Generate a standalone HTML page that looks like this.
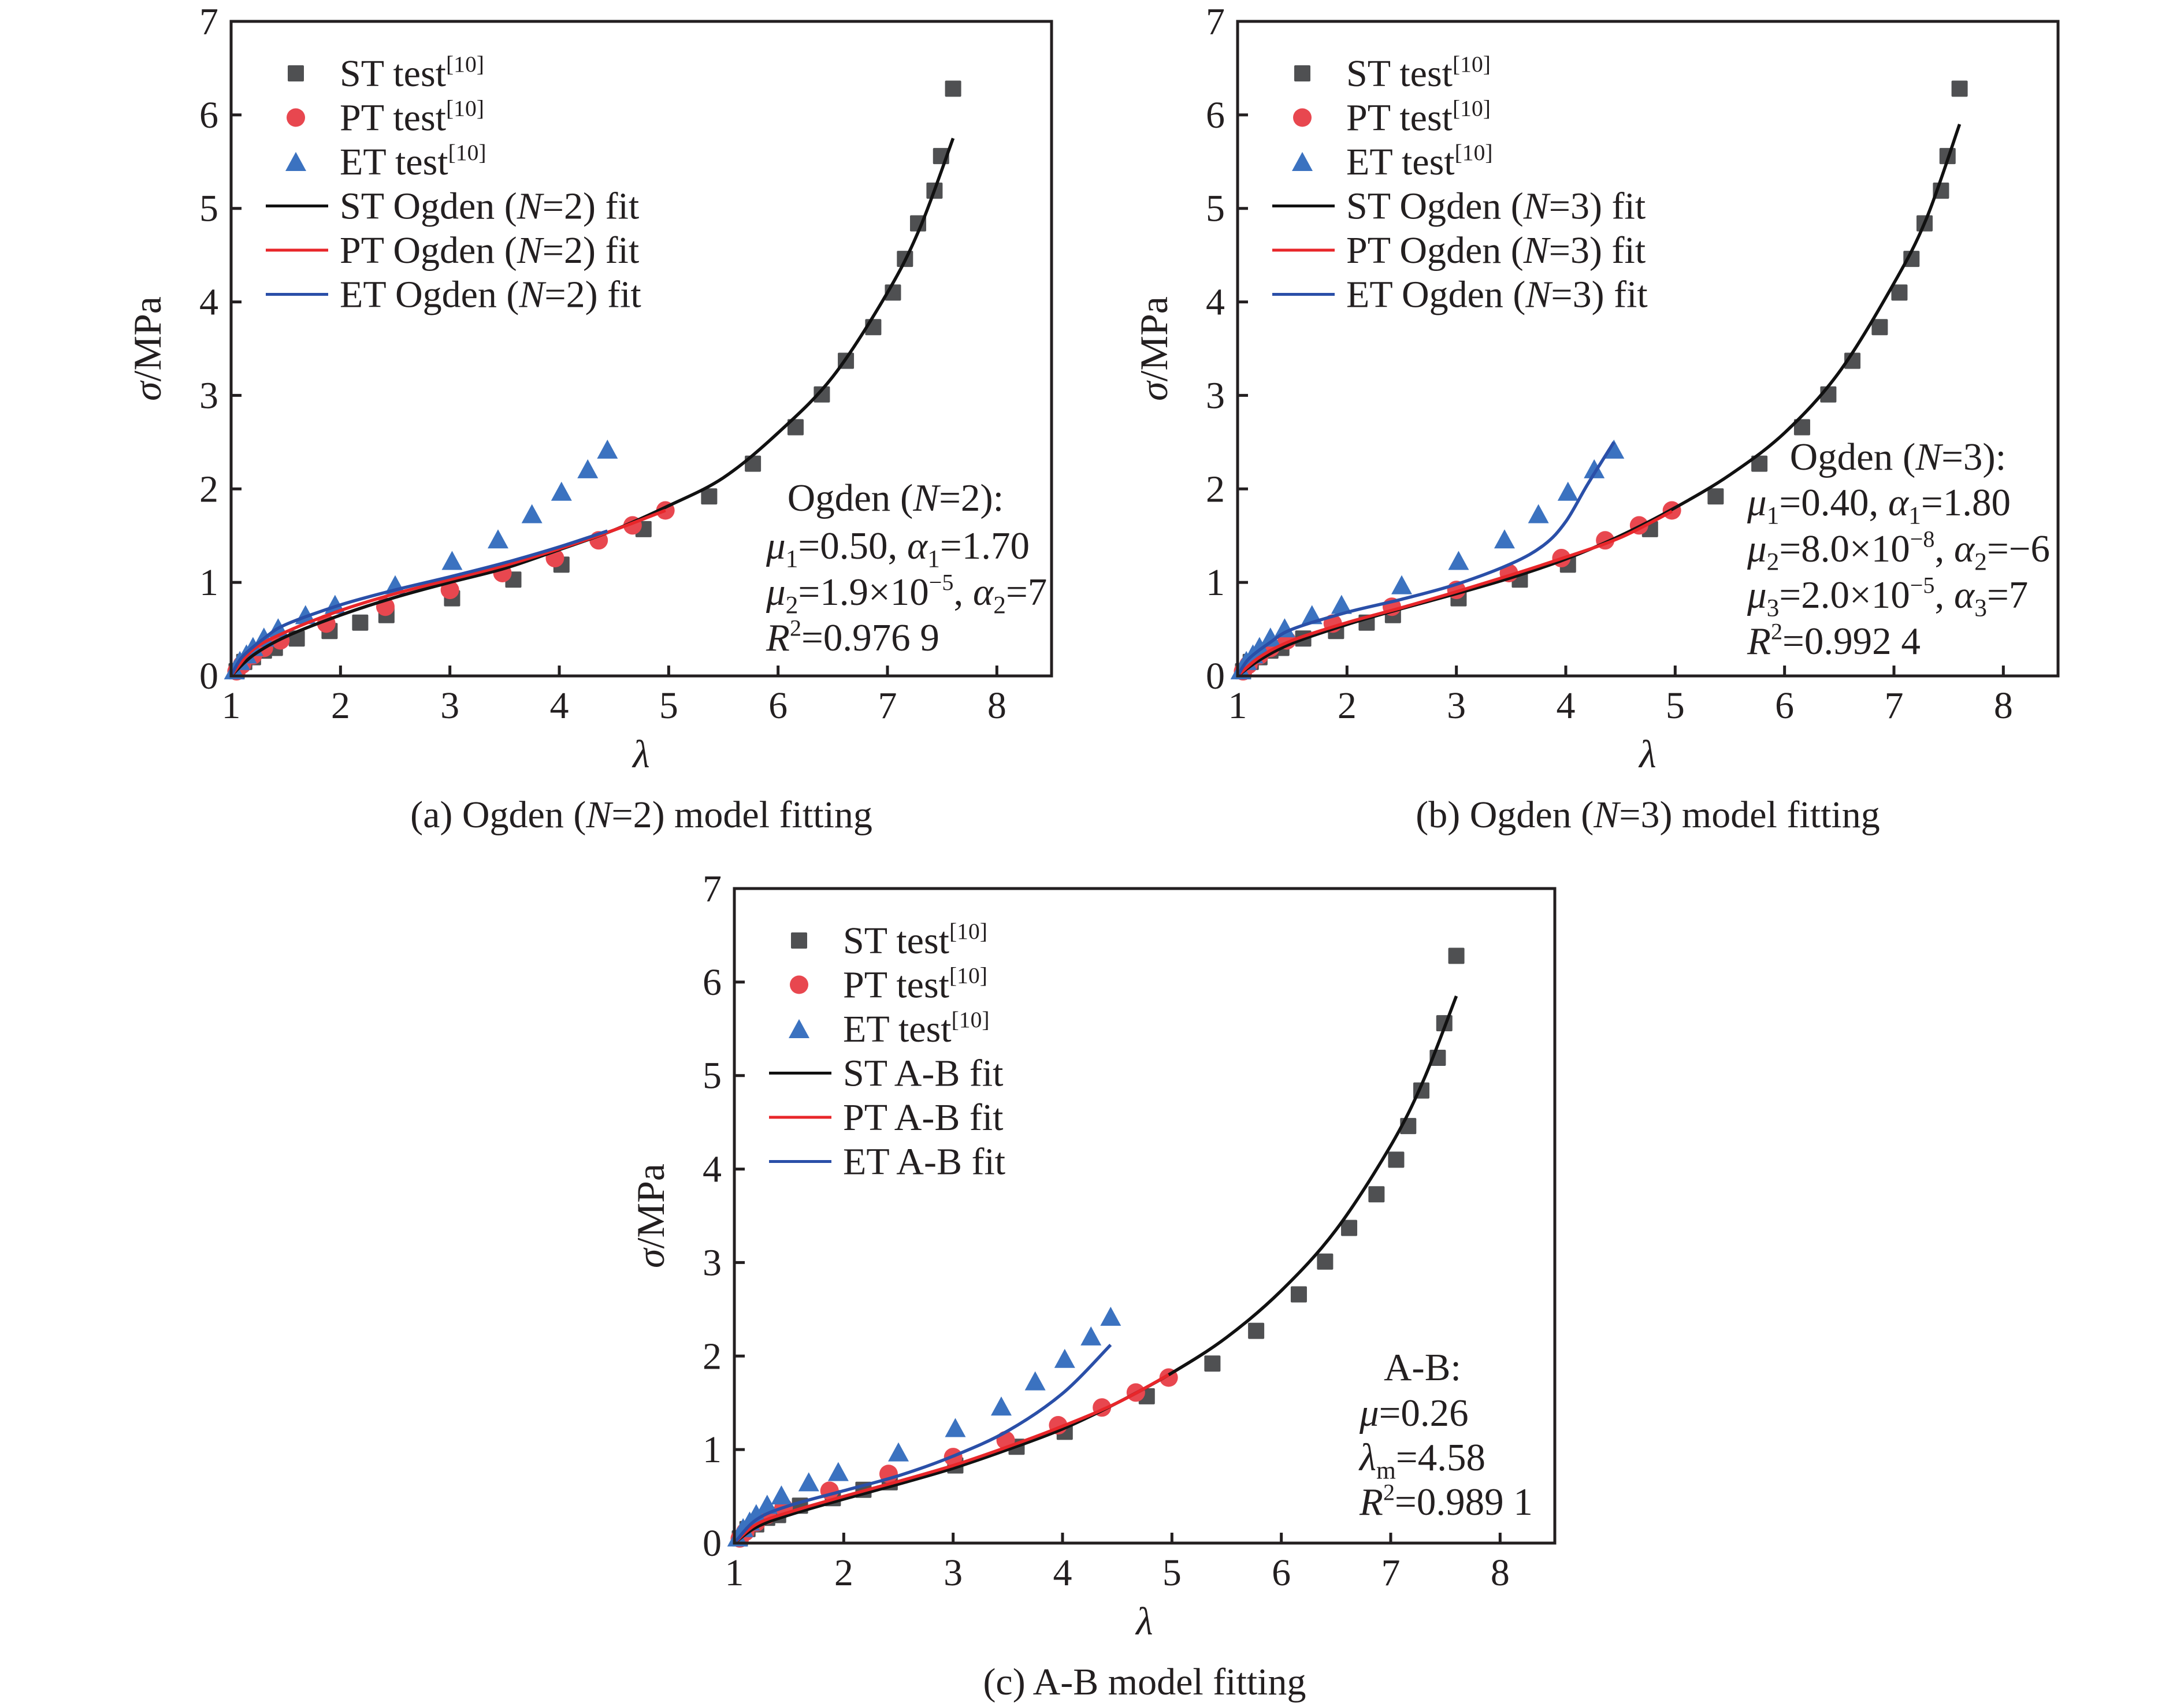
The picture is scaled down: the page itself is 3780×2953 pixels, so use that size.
<!DOCTYPE html>
<html><head><meta charset="utf-8"><style>
html,body{margin:0;padding:0;background:#fff}
svg{display:block;font-family:"Liberation Serif","DejaVu Serif",serif}
</style></head><body>
<svg id="fig" xmlns="http://www.w3.org/2000/svg" width="3780" height="2953" viewBox="0 0 3780 2953"></svg>
<script>
// ---- data ----
const stLambda=[1.05,1.12,1.2,1.3,1.4,1.6,1.9,2.18,2.42,3.02,3.58,4.02,4.77,5.37,5.77,6.16,6.4,6.62,6.87,7.05,7.16,7.28,7.43,7.49,7.6];
const stSigma=[0.05,0.15,0.2,0.27,0.3,0.4,0.48,0.57,0.65,0.83,1.03,1.19,1.57,1.92,2.27,2.66,3.01,3.37,3.73,4.1,4.46,4.84,5.19,5.56,6.28];
const ptLambda=[1.05,1.1,1.2,1.3,1.45,1.87,2.41,3.0,3.48,3.96,4.36,4.67,4.97];
const ptSigma=[0.05,0.12,0.22,0.3,0.38,0.56,0.74,0.92,1.1,1.26,1.45,1.61,1.77];
const etLambda=[1.03,1.08,1.14,1.2,1.3,1.43,1.68,1.95,2.5,3.02,3.44,3.75,4.02,4.26,4.44];
const etSigma=[0.05,0.15,0.22,0.3,0.4,0.5,0.64,0.75,0.96,1.22,1.45,1.72,1.96,2.2,2.41];
// fits (a)
const fitALambdaST=[1,1.2,1.5,2,2.5,3,3.5,4,4.5,5,5.5,6,6.5,7,7.3,7.6];
const fitASigmaST=[0,0.22,0.42,0.65,0.84,1.0,1.15,1.35,1.56,1.82,2.12,2.6,3.2,4.1,4.8,5.75];
const fitALambdaPT=[1,1.2,1.5,2,2.5,3,3.5,4,4.5,4.97];
const fitASigmaPT=[0,0.28,0.47,0.7,0.88,1.03,1.18,1.36,1.56,1.77];
const fitALambdaET=[1,1.1,1.3,1.5,2,2.5,3,3.5,4,4.44];
const fitASigmaET=[0,0.2,0.4,0.55,0.76,0.92,1.06,1.21,1.38,1.55];
// fits (b)
const fitBLambdaST=[1,1.2,1.5,2,2.5,3,3.5,4,4.5,5,5.5,6,6.5,7,7.3,7.6];
const fitBSigmaST=[0,0.17,0.35,0.55,0.72,0.88,1.05,1.25,1.5,1.8,2.15,2.6,3.25,4.2,4.9,5.9];
const fitBLambdaPT=[1,1.2,1.5,2,2.5,3,3.5,4,4.5,4.97];
const fitBSigmaPT=[0,0.2,0.38,0.57,0.73,0.9,1.08,1.27,1.48,1.76];
const fitBLambdaET=[1,1.1,1.3,1.5,2,2.5,3,3.5,3.8,4,4.2,4.44];
const fitBSigmaET=[0,0.18,0.36,0.5,0.68,0.82,0.98,1.2,1.4,1.65,2.05,2.5];
// fits (c)
const fitCLambdaST=[1,1.2,1.5,2,2.5,3,3.5,4,4.5,5,5.5,6,6.5,7,7.3,7.6];
const fitCSigmaST=[0,0.17,0.3,0.47,0.63,0.8,1.0,1.22,1.5,1.82,2.2,2.7,3.35,4.25,4.95,5.85];
const fitCLambdaPT=[1,1.2,1.5,2,2.5,3,3.5,4,4.5,4.97];
const fitCSigmaPT=[0,0.2,0.33,0.5,0.66,0.83,1.03,1.25,1.5,1.8];
const fitCLambdaET=[1,1.2,1.5,2,2.5,3,3.5,4,4.44];
const fitCSigmaET=[0,0.25,0.4,0.56,0.72,0.93,1.2,1.6,2.12];
const xTicks=[1,2,3,4,5,6,7,8];
const yTicks=[0,1,2,3,4,5,6,7];

const NS='http://www.w3.org/2000/svg';
const svg=document.getElementById('fig');
function mk(tag,attrs,parent){const e=document.createElementNS(NS,tag);for(const k in attrs)e.setAttribute(k,attrs[k]);parent.appendChild(e);return e;}
function richText(parent,x,y,size,parts,anchor){
  const t=mk('text',{x:x,y:y,'font-size':size,fill:'#231f20','text-anchor':anchor||'start'},parent);
  parts.forEach(p=>{
    const s=mk('tspan',{},t);
    s.textContent=p[0];
    if(p[1]&&p[1].indexOf('i')>=0)s.setAttribute('font-style','italic');
    if(p[1]&&p[1].indexOf('sub')>=0){s.setAttribute('font-size',size*0.65);s.setAttribute('dy',size*0.22);}
    if(p[1]&&p[1].indexOf('sup')>=0){s.setAttribute('font-size',size*0.6);s.setAttribute('dy',-size*0.38);}
    if(p[1]&&p[1].indexOf('back')>=0){s.setAttribute('dy',p[2]);}
  });
  return t;
}
function smoothPath(pts){
  let d='M'+pts[0][0].toFixed(1)+' '+pts[0][1].toFixed(1);
  for(let i=0;i<pts.length-1;i++){
    const p0=pts[i-1]||pts[i],p1=pts[i],p2=pts[i+1],p3=pts[i+2]||p2;
    const c1=[p1[0]+(p2[0]-p0[0])/6,p1[1]+(p2[1]-p0[1])/6];
    const c2=[p2[0]-(p3[0]-p1[0])/6,p2[1]-(p3[1]-p1[1])/6];
    d+=` C${c1[0].toFixed(1)} ${c1[1].toFixed(1)} ${c2[0].toFixed(1)} ${c2[1].toFixed(1)} ${p2[0].toFixed(1)} ${p2[1].toFixed(1)}`;
  }
  return d;
}
const W=1420,H=1133,XMIN=1,XMAX=8.5,YMIN=0,YMAX=7;
function drawPlot(id,ox,oy,fits,legendWord,annot,caption){
  const g=mk('g',{},svg);
  
  
  const sx=v=>ox+(v-XMIN)/(XMAX-XMIN)*W;
  const sy=v=>oy+H-(v-YMIN)/(YMAX-YMIN)*H;
  const colors=['#111','#e8262a','#2a4fa8'];
  const names=['st','pt','et'];
  function sq(x,y,gg){return mk('rect',{x:x-14,y:y-14,width:28,height:28,rx:2,fill:'#4f5052'},gg);}
  function ci(x,y,gg){return mk('circle',{cx:x,cy:y,r:16,fill:'#e8474f'},gg);}
  function tr(x,y,gg){return mk('path',{d:`M${x} ${y-19} L${x+18} ${y+14} L${x-18} ${y+14}Z`,fill:'#3b72c0'},gg);}
  stLambda.forEach((l,j)=>{const m=sq(sx(l),sy(stSigma[j]),g);});
  ptLambda.forEach((l,j)=>{const m=ci(sx(l),sy(ptSigma[j]),g);});
  etLambda.forEach((l,j)=>{const m=tr(sx(l),sy(etSigma[j]),g);});
  fits.forEach((f,i)=>{
    const d=smoothPath(f[0].map((l,j)=>[sx(l),sy(f[1][j])]));
    const p=mk('path',{d:d,fill:'none',stroke:colors[i],'stroke-width':5.5,'stroke-linejoin':'round'},g);
    
    
  });
  const fr=mk('rect',{x:ox,y:oy,width:W,height:H,fill:'none',stroke:'#231f20','stroke-width':5},g);
  
  
  xTicks.forEach(v=>{
    mk('line',{x1:sx(v),x2:sx(v),y1:oy+H,y2:oy+H-18,stroke:'#231f20','stroke-width':5},g);
    const t=mk('text',{x:sx(v),y:oy+H+73,'font-size':66,'text-anchor':'middle',fill:'#231f20'},g);
    t.textContent=v;
    
    
  });
  yTicks.forEach(v=>{
    mk('line',{x1:ox,x2:ox+18,y1:sy(v),y2:sy(v),stroke:'#231f20','stroke-width':5},g);
    const t=mk('text',{x:ox-22,y:sy(v)+22,'font-size':66,'text-anchor':'end',fill:'#231f20'},g);
    t.textContent=v;
    
    
  });
  const yt=mk('g',{transform:`translate(${ox-122},${oy+H/2}) rotate(-90)`},g);
  
  
  richText(yt,0,0,68,[['σ','i'],['/MPa','']],'middle');
  const xt=richText(g,ox+W/2,oy+H+158,68,[['λ','i']],'middle');
  
  
  const lg=mk('g',{},g);
  
  
  const rows=[['ST test','sq'],['PT test','ci'],['ET test','tr'],['ST '+legendWord,0],['PT '+legendWord,1],['ET '+legendWord,2]];
  rows.forEach((r,i)=>{
    const cy=oy+90+i*76.5, mx=ox+112;
    if(r[1]==='sq')sq(mx,cy,lg); else if(r[1]==='ci')ci(mx,cy,lg); else if(r[1]==='tr')tr(mx,cy+2,lg);
    else mk('line',{x1:ox+60,x2:ox+168,y1:cy,y2:cy,stroke:colors[r[1]],'stroke-width':5},lg);
    let parts;
    if(i<3)parts=[[r[0],''],['[10]','sup']];
    else if(r[0].indexOf('N=')>=0){
      const m=r[0].split('N=');parts=[[m[0],''],['N','i'],['='+m[1],'']];
    } else parts=[[r[0],'']];
    const t=richText(lg,ox+188,cy+22,66,parts);
    
    
  });
  const an=mk('g',{},g);
  
  
  annot.forEach(a=>richText(an,a.x,a.y,67,a.parts,a.anchor));
  const cp=richText(g,ox+W/2,oy+H+262,66,caption,'middle');
  
  
}
const F=67;
drawPlot('a',400,37,[[fitALambdaST,fitASigmaST],[fitALambdaPT,fitASigmaPT],[fitALambdaET,fitASigmaET]],'Ogden (N=2) fit',[
 {x:1550,y:884,anchor:'middle',parts:[['Ogden (',''],['N','i'],['=2):','']]},
 {x:1326,y:967,parts:[['μ','i'],['1','sub'],['=0.50, ','back',-F*0.22],['α','i'],['1','sub'],['=1.70','back',-F*0.22]]},
 {x:1326,y:1047,parts:[['μ','i'],['2','sub'],['=1.9×10','back',-F*0.22],['−5','sup'],[', ','back',F*0.38],['α','i'],['2','sub'],['=7','back',-F*0.22]]},
 {x:1326,y:1126,parts:[['R','i'],['2','sup'],['=0.976 9','back',F*0.38]]}
],[['(a) Ogden (',''],['N','i'],['=2) model fitting','']]);
drawPlot('b',2142,37,[[fitBLambdaST,fitBSigmaST],[fitBLambdaPT,fitBSigmaPT],[fitBLambdaET,fitBSigmaET]],'Ogden (N=3) fit',[
 {x:3285,y:813,anchor:'middle',parts:[['Ogden (',''],['N','i'],['=3):','']]},
 {x:3024,y:892,parts:[['μ','i'],['1','sub'],['=0.40, ','back',-F*0.22],['α','i'],['1','sub'],['=1.80','back',-F*0.22]]},
 {x:3024,y:972,parts:[['μ','i'],['2','sub'],['=8.0×10','back',-F*0.22],['−8','sup'],[', ','back',F*0.38],['α','i'],['2','sub'],['=−6','back',-F*0.22]]},
 {x:3024,y:1052,parts:[['μ','i'],['3','sub'],['=2.0×10','back',-F*0.22],['−5','sup'],[', ','back',F*0.38],['α','i'],['3','sub'],['=7','back',-F*0.22]]},
 {x:3024,y:1132,parts:[['R','i'],['2','sup'],['=0.992 4','back',F*0.38]]}
],[['(b) Ogden (',''],['N','i'],['=3) model fitting','']]);
drawPlot('c',1271,1538,[[fitCLambdaST,fitCSigmaST],[fitCLambdaPT,fitCSigmaPT],[fitCLambdaET,fitCSigmaET]],'A-B fit',[
 {x:2462,y:2389,anchor:'middle',parts:[['A-B:','']]},
 {x:2353,y:2468,parts:[['μ','i'],['=0.26','']]},
 {x:2353,y:2545,parts:[['λ','i'],['m','sub'],['=4.58','back',-F*0.22]]},
 {x:2353,y:2622,parts:[['R','i'],['2','sup'],['=0.989 1','back',F*0.38]]}
],[['(c) A-B model fitting','']]);
</script>
</body></html>
